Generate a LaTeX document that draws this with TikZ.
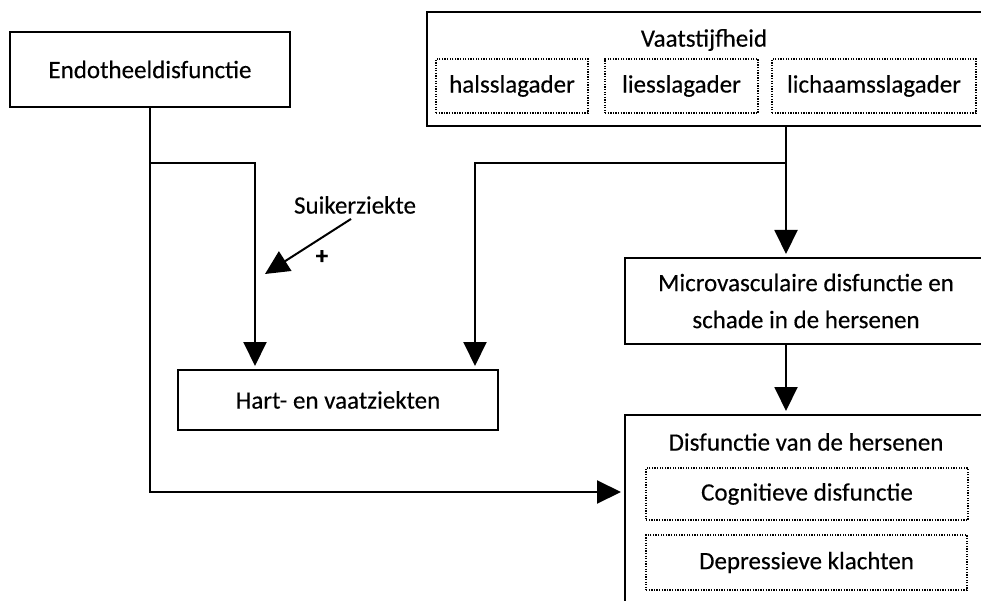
\documentclass[tikz,border=0pt]{standalone}
\usepackage{fontspec}
\setmainfont[FakeBold=0.3]{Carlito}
\usetikzlibrary{arrows.meta,calc}
\begin{document}
\begin{tikzpicture}[x=1pt,y=-1pt,
  box/.style={draw, line width=2pt, inner sep=0pt, font=\fontsize{25}{37}\selectfont, align=center},
  dbox/.style={draw, line width=1.3pt, dash pattern=on 1.3pt off 1.3pt, inner sep=0pt, font=\fontsize{25}{30}\selectfont},
  lbl/.style={inner sep=0pt, font=\fontsize{25}{30}\selectfont},
  ln/.style={line width=2pt},
  arr/.style={line width=2pt, -{Triangle[length=24pt,width=23pt]}, shorten >=3pt}]
\clip (0,0) rectangle (981,601);
% boxes
\node[box, minimum width=280, minimum height=75] (endo) at (150,69.5) {Endotheeldisfunctie};
\node[box, minimum width=556, minimum height=114] (vaat) at (705,69) {};
\node[lbl] (vaatt) at (704,40) {Vaatstijfheid};
\node[dbox, minimum width=152, minimum height=54] (hals) at (512,86) {halsslagader};
\node[dbox, minimum width=153, minimum height=54] (lies) at (681.5,86) {liesslagader};
\node[dbox, minimum width=204, minimum height=54] (lich) at (874,86) {lichaamsslagader};
\node[box, minimum width=362, minimum height=86] (micro) at (806,301) {Microvasculaire disfunctie en\\schade in de hersenen};
\node[box, minimum width=320, minimum height=60] (hart) at (338,400) {Hart- en vaatziekten};
\node[box, minimum width=362, minimum height=205] (disf) at (806,517.5) {};
\node[lbl] (disft) at (806,442) {Disfunctie van de hersenen};
\node[dbox, minimum width=322, minimum height=52] (cogn) at (807,494) {Cognitieve disfunctie};
\node[dbox, minimum width=321, minimum height=55] (depr) at (806.5,562.5) {Depressieve klachten};
\node[lbl] (suik) at (355,205) {Suikerziekte};
\node[lbl, font=\fontsize{25}{30}\bfseries] (plus) at (322,257) {+};
% junctions
\coordinate (ja) at (255,163);
\coordinate (jd) at (150,492);
\coordinate (jv) at (786,163);
\coordinate (jh) at (475,163);
\coordinate (sk) at (265,274);
% connectors
\draw[arr] (endo.south) |- (ja) -- (ja |- hart.north);
\draw[arr] (endo.south) |- (disf.west |- jd);
\draw[arr] (jv |- vaat.south) -- (jv |- micro.north);
\draw[arr] (jv) -- (jh) -- (jh |- hart.north);
\draw[arr] (jv |- micro.south) -- (jv |- disf.north);
\draw[line width=2pt, -{Triangle[length=24pt,width=23pt]}] ($(suik.south)+(-4,5)$) -- (sk);
\end{tikzpicture}
\end{document}
